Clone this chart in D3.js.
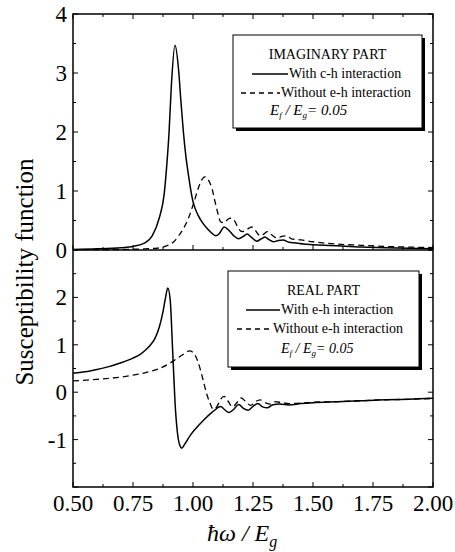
<!DOCTYPE html>
<html><head><meta charset="utf-8">
<script src="https://cdn.jsdelivr.net/npm/d3@7"></script>
<style>
html,body{margin:0;padding:0;background:#fff;}
svg{display:block;}
</style></head>
<body>
<svg id="chart" width="455" height="552"></svg>
<script>
// ---- data ----
const imWithX = [0.50,0.60,0.70,0.75,0.80,0.83,0.86,0.88,0.89,0.90,0.91,0.925,0.94,0.95,0.96,0.97,0.98,1.00,1.02,1.04,1.06,1.08,1.095,1.11,1.13,1.15,1.17,1.19,1.21,1.225,1.245,1.265,1.285,1.30,1.315,1.335,1.355,1.375,1.40,1.43,1.46,1.50,1.60,1.70,1.80,1.90,2.00];
const imWithY = [0.01,0.02,0.04,0.06,0.12,0.24,0.55,0.95,1.40,1.98,2.80,3.47,3.05,2.50,2.00,1.60,1.30,0.82,0.60,0.46,0.36,0.28,0.24,0.28,0.39,0.33,0.24,0.19,0.23,0.27,0.21,0.15,0.19,0.22,0.18,0.14,0.16,0.17,0.13,0.12,0.10,0.09,0.07,0.05,0.04,0.03,0.02];
const imWithoutX = [0.50,0.70,0.80,0.85,0.875,0.90,0.92,0.94,0.96,0.98,1.00,1.02,1.035,1.05,1.065,1.08,1.09,1.10,1.115,1.13,1.145,1.16,1.175,1.19,1.205,1.225,1.245,1.26,1.28,1.295,1.31,1.33,1.35,1.37,1.39,1.41,1.45,1.50,1.60,1.70,1.80,1.90,2.00];
const imWithoutY = [0.005,0.01,0.02,0.03,0.05,0.09,0.14,0.24,0.36,0.53,0.76,1.02,1.18,1.24,1.18,1.03,0.85,0.68,0.48,0.46,0.52,0.54,0.48,0.36,0.31,0.35,0.39,0.33,0.24,0.27,0.31,0.25,0.20,0.23,0.24,0.19,0.17,0.14,0.10,0.08,0.06,0.05,0.04];
const reWithX = [0.50,0.55,0.60,0.65,0.70,0.75,0.78,0.80,0.82,0.84,0.86,0.875,0.885,0.895,0.905,0.915,0.925,0.935,0.945,0.953,0.965,0.99,1.02,1.05,1.08,1.10,1.115,1.13,1.15,1.17,1.19,1.21,1.23,1.25,1.27,1.29,1.31,1.33,1.36,1.40,1.45,1.50,1.60,1.70,1.80,1.90,2.00];
const reWithY = [0.40,0.43,0.48,0.54,0.62,0.72,0.80,0.88,0.98,1.12,1.38,1.70,1.98,2.20,1.95,0.90,-0.20,-0.85,-1.12,-1.18,-1.10,-0.90,-0.72,-0.56,-0.42,-0.34,-0.30,-0.36,-0.43,-0.36,-0.26,-0.34,-0.38,-0.30,-0.24,-0.31,-0.33,-0.27,-0.25,-0.27,-0.24,-0.22,-0.20,-0.18,-0.16,-0.15,-0.13];
const reWithoutX = [0.50,0.60,0.70,0.75,0.80,0.85,0.90,0.93,0.96,0.985,1.00,1.02,1.04,1.055,1.07,1.085,1.10,1.115,1.13,1.145,1.165,1.18,1.20,1.22,1.24,1.26,1.28,1.30,1.32,1.34,1.37,1.40,1.45,1.50,1.60,1.70,1.80,1.90,2.00];
const reWithoutY = [0.24,0.27,0.32,0.36,0.41,0.48,0.60,0.70,0.80,0.87,0.84,0.65,0.30,0.00,-0.22,-0.36,-0.30,-0.15,-0.09,-0.18,-0.31,-0.24,-0.12,-0.20,-0.28,-0.20,-0.16,-0.22,-0.25,-0.20,-0.22,-0.24,-0.23,-0.21,-0.20,-0.18,-0.16,-0.15,-0.13];
const xTicks = [0.50,0.75,1.00,1.25,1.50,1.75,2.00];
const xTickLabels = ["0.50","0.75","1.00","1.25","1.50","1.75","2.00"];
const topYTicks = [0,1,2,3,4];
const botYTicks = [-1,0,1,2];
const topLegendTitle = "IMAGINARY PART";
const botLegendTitle = "REAL PART";
const topLegendWith = "With c-h interaction";
const botLegendWith = "With e-h interaction";
const legendWithout = "Without e-h interaction";

const FONT = "Liberation Serif";
// ---- layout ----
const L = 73, R = 433, T = 14, M = 250, B = 487;
const svg = d3.select("#chart");
const x = d3.scaleLinear().domain([0.5, 2.0]).range([L, R]);
const yT = d3.scaleLinear().domain([0, 4]).range([M, T]);
const yB = d3.scaleLinear().domain([-2, 3]).range([B, M]);

const zip = (a, b) => a.map((v, i) => [v, b[i]]);
function drawLine(data, ys, dashed) {
  const line = d3.line().x(d => x(d[0])).y(d => ys(d[1])).curve(d3.curveMonotoneX);
  svg.append("path").attr("d", line(data)).attr("fill", "none").attr("stroke", "#000")
    .attr("stroke-width", dashed ? 1.3 : 1.5)
    .attr("stroke-dasharray", dashed ? "6,4" : null);
}
drawLine(zip(imWithoutX, imWithoutY), yT, true);
drawLine(zip(imWithX, imWithY), yT, false);
drawLine(zip(reWithoutX, reWithoutY), yB, true);
drawLine(zip(reWithX, reWithY), yB, false);

// ---- frames ----
const g = svg.append("g").attr("stroke", "#000").attr("fill", "none");
g.append("rect").attr("x", L).attr("y", T).attr("width", R - L).attr("height", B - T).attr("stroke-width", 1.5);
g.append("line").attr("x1", L).attr("x2", R).attr("y1", M).attr("y2", M).attr("stroke-width", 1.5);

// ---- ticks ----
const xMinor = d3.range(0.625, 2.0, 0.25);
function xTickMarks(y0, dir) {
  xTicks.forEach(v => g.append("line").attr("x1", x(v)).attr("x2", x(v)).attr("y1", y0).attr("y2", y0 + dir * 5).attr("stroke-width", 1));
  xMinor.forEach(v => g.append("line").attr("x1", x(v)).attr("x2", x(v)).attr("y1", y0).attr("y2", y0 + dir * 3).attr("stroke-width", 1));
}
xTickMarks(B, -1); xTickMarks(M, -1); xTickMarks(T, 1);
function yTickMarks(ys, lo, hi) {
  for (let v = lo; v <= hi + 1e-9; v += 0.5) {
    const len = Math.abs(v - Math.round(v)) < 1e-9 ? 5 : 3;
    g.append("line").attr("x1", L).attr("x2", L + len).attr("y1", ys(v)).attr("y2", ys(v)).attr("stroke-width", 1);
    g.append("line").attr("x1", R).attr("x2", R - len).attr("y1", ys(v)).attr("y2", ys(v)).attr("stroke-width", 1);
  }
}
yTickMarks(yT, 0, 4); yTickMarks(yB, -2, 3);

function txt(sel) { return sel.append("text").attr("font-family", FONT).attr("fill", "#000"); }

// ---- tick labels ----
const fs = 23;
xTicks.forEach((d, i) => txt(svg).attr("x", x(d)).attr("y", 511).attr("text-anchor", "middle").attr("font-size", fs).text(xTickLabels[i]));
topYTicks.forEach(d => txt(svg).attr("x", 67).attr("y", yT(d) + 8).attr("text-anchor", "end").attr("font-size", fs).text(d));
botYTicks.forEach(d => txt(svg).attr("x", 67).attr("y", yB(d) + 8).attr("text-anchor", "end").attr("font-size", fs).text(d));

// ---- axis titles ----
txt(svg).attr("transform", "translate(33,272) rotate(-90)").attr("text-anchor", "middle")
  .attr("font-size", 25).text("Susceptibility function");
const xt = txt(svg).attr("x", 207).attr("y", 541).attr("font-size", 24).attr("font-style", "italic");
xt.append("tspan").text("ħω / E");
xt.append("tspan").attr("font-size", 16).attr("dy", 6).text("g");

// ---- legends ----
function legend(bx, by, bw, bh, title, withTxt, tY, lineX1, lineX2, dashX1, dashX2, ratioX, ratioFs) {
  svg.append("rect").attr("x", bx + 3).attr("y", by + 3).attr("width", bw).attr("height", bh).attr("fill", "#000");
  svg.append("rect").attr("x", bx).attr("y", by).attr("width", bw).attr("height", bh).attr("fill", "#fff").attr("stroke", "#000").attr("stroke-width", 1);
  const cx = bx + bw / 2;
  txt(svg).attr("x", cx).attr("y", tY[0]).attr("text-anchor", "middle").attr("font-size", 14).text(title);
  svg.append("line").attr("x1", lineX1).attr("x2", lineX2).attr("y1", tY[1] - 4).attr("y2", tY[1] - 4).attr("stroke", "#000").attr("stroke-width", 1.3);
  txt(svg).attr("x", lineX2 + 1).attr("y", tY[1]).attr("font-size", 14).text(withTxt);
  svg.append("line").attr("x1", dashX1).attr("x2", dashX2).attr("y1", tY[2] - 4).attr("y2", tY[2] - 4).attr("stroke", "#000").attr("stroke-width", 1.3).attr("stroke-dasharray", "5,4");
  txt(svg).attr("x", dashX2 + 1).attr("y", tY[2]).attr("font-size", 14).text(legendWithout);
  const r = txt(svg).attr("x", ratioX).attr("y", tY[3]).attr("font-size", ratioFs).attr("font-style", "italic");
  r.append("tspan").text("E");
  r.append("tspan").attr("font-size", 9).attr("dy", 3).text("f");
  r.append("tspan").attr("dy", -3).text(" / E");
  r.append("tspan").attr("font-size", 9).attr("dy", 3).text("g");
  r.append("tspan").attr("dy", -3).text("= 0.05");
}
legend(233, 35, 189, 93, topLegendTitle, topLegendWith, [59, 78, 97, 115], 252, 288, 241, 280, 270, 15);
legend(228, 271, 191, 96, botLegendTitle, botLegendWith, [295, 314, 333, 353], 246, 280, 237, 272, 281, 14);
</script>
</body></html>
